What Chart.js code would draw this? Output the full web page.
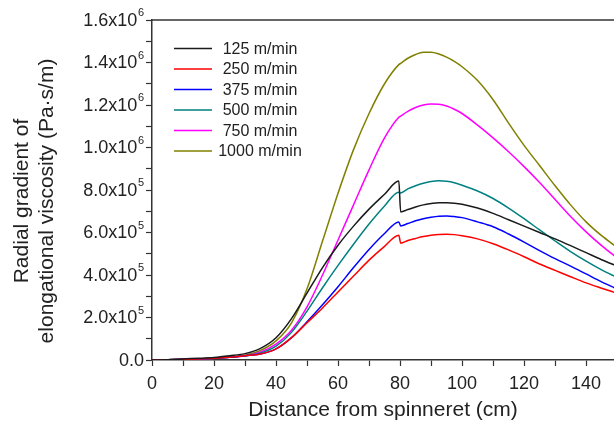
<!DOCTYPE html>
<html>
<head>
<meta charset="utf-8">
<script src="https://cdn.jsdelivr.net/npm/chart.js@4.4.1/dist/chart.umd.min.js"></script>
<style>
  html, body { margin: 0; padding: 0; background: #fff; }
  #wrap { width: 614px; height: 426px; }
</style>
</head>
<body>
<div id="wrap"><canvas id="viscChart" width="614" height="426"></canvas></div>
<script>
// Distance from spinneret (cm)
const xs = [0, 5, 10, 15, 20, 25, 30, 35, 40, 45, 50, 55, 60, 65, 70, 75, 79.6, 80.2,
  82.5, 85, 87.5, 90, 92.5, 95, 97.5, 100, 105, 110, 115, 120, 125, 130, 135, 140, 145, 150];

// Radial gradient of elongational viscosity, in units of 1e5 Pa·s/m
const v125 = [0, 0.01, 0.05, 0.08, 0.12, 0.2, 0.3, 0.55, 1.05, 1.95, 3.15, 4.35, 5.4, 6.3, 7.1, 7.8, 8.42, 6.97,
  7.08, 7.2, 7.3, 7.36, 7.4, 7.4, 7.38, 7.33, 7.15, 6.9, 6.6, 6.3, 6.0, 5.7, 5.38, 5.05, 4.72, 4.42];
const v250 = [0, 0.01, 0.03, 0.05, 0.08, 0.13, 0.2, 0.28, 0.52, 1.05, 1.75, 2.45, 3.2, 3.95, 4.7, 5.35, 5.87, 5.5,
  5.62, 5.72, 5.81, 5.87, 5.91, 5.92, 5.9, 5.85, 5.7, 5.47, 5.18, 4.86, 4.52, 4.22, 3.92, 3.63, 3.38, 3.14];
const v375 = [0, 0.01, 0.03, 0.05, 0.08, 0.13, 0.2, 0.28, 0.52, 1.05, 1.8, 2.6, 3.45, 4.35, 5.2, 5.95, 6.5, 6.31,
  6.42, 6.55, 6.65, 6.72, 6.77, 6.78, 6.75, 6.7, 6.5, 6.27, 5.93, 5.55, 5.15, 4.77, 4.42, 4.05, 3.68, 3.34];
const v500 = [0, 0.01, 0.03, 0.05, 0.08, 0.13, 0.2, 0.33, 0.65, 1.3, 2.3, 3.4, 4.45, 5.45, 6.4, 7.25, 7.9, 7.86,
  8.05, 8.2, 8.32, 8.4, 8.43, 8.41, 8.34, 8.22, 7.95, 7.6, 7.15, 6.65, 6.12, 5.6, 5.1, 4.65, 4.24, 3.88];
const v750 = [0, 0.01, 0.03, 0.05, 0.08, 0.13, 0.2, 0.38, 0.75, 1.4, 2.5, 4.0, 5.65, 7.3, 8.95, 10.45, 11.42, 11.48,
  11.7, 11.88, 12.0, 12.05, 12.04, 11.95, 11.8, 11.6, 11.05, 10.45, 9.8, 9.1, 8.35, 7.55, 6.75, 6.03, 5.38, 4.8];
const v1000 = [0, 0.01, 0.03, 0.05, 0.08, 0.13, 0.22, 0.45, 0.9, 1.75, 3.35, 5.6, 7.85, 9.9, 11.6, 13.0, 13.9, 13.96,
  14.2, 14.38, 14.48, 14.48, 14.4, 14.25, 14.05, 13.8, 13.15, 12.25, 11.15, 10.1, 9.15, 8.2, 7.3, 6.5, 5.85, 5.3];

const seriesNames = ['125 m/min', '250 m/min', '375 m/min', '500 m/min', '750 m/min', '1000 m/min'];
const seriesValues = [v125, v250, v375, v500, v750, v1000];
const seriesColors = ['#1a1a1a', '#ff0000', '#0000ff', '#008080', '#ff00ff', '#808000'];

// tick labels
const xTickValues = [0, 20, 40, 60, 80, 100, 120, 140];
const xTickLabels = ['0', '20', '40', '60', '80', '100', '120', '140'];
const yTickValues = [0, 2, 4, 6, 8, 10, 12, 14, 16];
const yTickLabels = ['0.0', '2.0x10', '4.0x10', '6.0x10', '8.0x10', '1.0x10', '1.2x10', '1.4x10', '1.6x10'];
const yTickExps = ['', '5', '5', '5', '5', '6', '6', '6', '6'];

const FONT = '"Liberation Sans", Arial, sans-serif';
const INK = '#222';

// y labels with superscripts, y title, top frame and the legend
const extras = {
  id: 'extras',
  afterDraw(chart) {
    const { ctx, chartArea: a } = chart;
    const y = chart.scales.y;
    ctx.save();

    ctx.strokeStyle = '#333';
    ctx.lineWidth = 1.5;
    ctx.beginPath();
    ctx.moveTo(a.left, a.top);
    ctx.lineTo(a.right, a.top);
    ctx.stroke();

    ctx.fillStyle = INK;
    ctx.textBaseline = 'middle';
    ctx.textAlign = 'right';
    yTickValues.forEach((v, i) => {
      const py = y.getPixelForValue(v);
      let xr = 144;
      if (yTickExps[i]) {
        ctx.font = '11px ' + FONT;
        ctx.fillText(yTickExps[i], xr, py - 7);
        xr -= ctx.measureText(yTickExps[i]).width + 0.5;
      }
      ctx.font = '18px ' + FONT;
      ctx.fillText(yTickLabels[i], xr, py + 1);
    });

    // y axis title, two lines
    ctx.save();
    ctx.font = '21px ' + FONT;
    ctx.textAlign = 'center';
    ctx.translate(0, 201);
    ctx.rotate(-Math.PI / 2);
    ctx.fillText('Radial gradient of', 0, 22);
    ctx.fillText('elongational viscosity (Pa\u00b7s/m)', 0, 47);
    ctx.restore();

    // legend
    ctx.font = '16px ' + FONT;
    ctx.textAlign = 'center';
    chart.data.datasets.forEach((ds, i) => {
      const ly = 48.5 + i * 20.5;
      ctx.strokeStyle = ds.borderColor;
      ctx.lineWidth = 1.6;
      ctx.beginPath();
      ctx.moveTo(174, ly);
      ctx.lineTo(212, ly);
      ctx.stroke();
      ctx.fillStyle = INK;
      ctx.fillText(ds.label, 260, ly + 1);
    });
    ctx.restore();
  }
};

const ctxVisc = document.getElementById('viscChart').getContext('2d');
const viscChart = new Chart(ctxVisc, {
  type: 'line',
  data: {
    datasets: seriesNames.map((name, k) => ({
      label: name,
      data: xs.map((x, i) => ({ x: x, y: seriesValues[k][i] })),
      borderColor: seriesColors[k],
      borderWidth: 1.5,
      pointRadius: 0,
      fill: false,
      cubicInterpolationMode: 'monotone'
    }))
  },
  options: {
    responsive: false,
    animation: false,
    devicePixelRatio: 1,
    layout: { padding: { top: 20, left: 0, right: 0, bottom: 0 } },
    plugins: { legend: { display: false }, tooltip: { enabled: false } },
    scales: {
      x: {
        type: 'linear',
        min: 0,
        max: 149,
        afterFit: s => { s.height = 66; },
        border: { display: true, color: '#333', width: 1.5 },
        grid: { drawOnChartArea: false, color: '#333', tickLength: 6, tickWidth: 1.2 },
        ticks: {
          stepSize: 10,
          includeBounds: false,
          autoSkip: false,
          maxRotation: 0,
          padding: 7,
          color: INK,
          font: { family: FONT, size: 18 },
          callback: v => {
            const k = xTickValues.indexOf(v);
            return k >= 0 ? xTickLabels[k] : '';
          }
        },
        title: {
          display: true,
          text: 'Distance from spinneret (cm)',
          color: INK,
          font: { family: FONT, size: 21 },
          padding: { top: 0, bottom: 3 }
        }
      },
      y: {
        min: 0,
        max: 16,
        afterFit: s => { s.width = 152; },
        border: { display: true, color: '#333', width: 1.5 },
        grid: { drawOnChartArea: false, color: '#333', tickLength: 6, tickWidth: 1.2 },
        ticks: { stepSize: 1, display: false }
      }
    }
  },
  plugins: [extras]
});
</script>
</body>
</html>
